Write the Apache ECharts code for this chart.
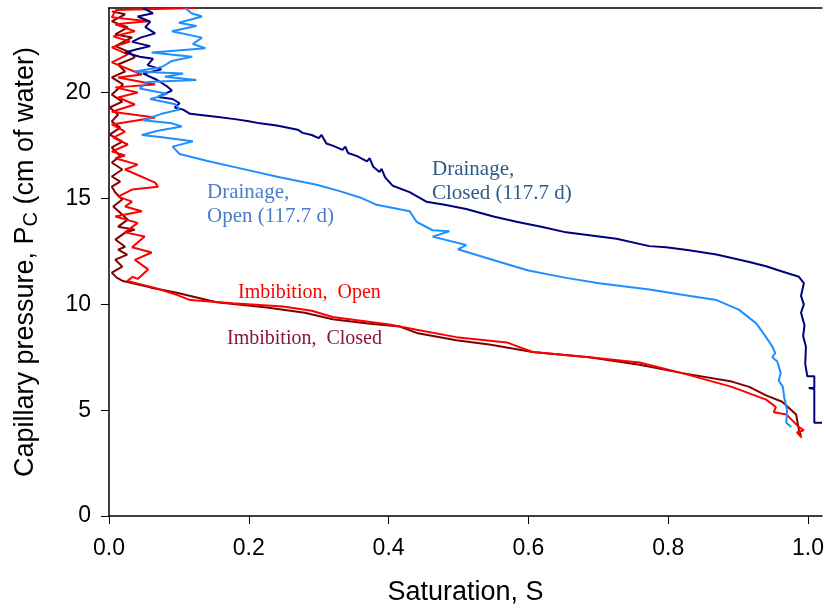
<!DOCTYPE html>
<html>
<head>
<meta charset="utf-8">
<script src="https://cdn.jsdelivr.net/npm/echarts@6/dist/echarts.min.js"></script>
<style>
  html, body { margin: 0; padding: 0; background: #fff; }
  #main { width: 828px; height: 608px; }
</style>
</head>
<body>
<div id="main"></div>
<script>
// 刻度
var xTicks = [0, 0.2, 0.4, 0.6, 0.8, 1.0];
var yTicks = [0, 5, 10, 15, 20];

// 数据: [饱和度 S, 毛细压力 Pc]
var drainageClosed = [
  [0.049,24.0],[0.063,23.75],[0.041,23.6],[0.059,23.35],[0.052,23.1],[0.066,22.8],
  [0.045,22.6],[0.033,22.4],[0.059,22.2],[0.040,22.05],[0.023,21.9],[0.044,21.7],
  [0.063,21.6],[0.055,21.3],[0.075,21.1],[0.049,20.9],[0.069,20.6],[0.083,20.3],
  [0.090,20.1],[0.070,19.8],[0.091,19.7],[0.101,19.5],[0.094,19.3],[0.106,19.2],
  [0.116,19.0],[0.156,18.85],[0.180,18.75],[0.200,18.65],[0.216,18.55],[0.240,18.45],
  [0.263,18.3],[0.270,18.25],[0.277,18.1],[0.290,18.0],[0.300,17.85],[0.304,18.0],
  [0.311,17.6],[0.320,17.5],[0.334,17.3],[0.338,17.45],[0.342,17.15],[0.355,17.0],
  [0.369,16.75],[0.373,16.9],[0.378,16.5],[0.387,16.25],[0.390,16.4],[0.395,16.0],
  [0.406,15.6],[0.430,15.3],[0.454,14.85],[0.480,14.7],[0.511,14.5],[0.550,14.15],
  [0.583,13.9],[0.620,13.65],[0.654,13.4],[0.690,13.25],[0.726,13.1],[0.773,12.75],
  [0.797,12.7],[0.830,12.55],[0.869,12.35],[0.916,12.0],[0.940,11.8],[0.963,11.55],
  [0.987,11.3],[0.994,11.0],[0.990,10.4],[0.994,10.0],[0.990,9.6],[0.995,9.0],
  [0.993,8.5],[0.997,8.0],[0.996,7.2],[0.999,6.6],[1.009,6.6],[1.009,6.05],
  [1.001,6.05],[1.009,6.0],[1.009,4.4],[1.02,4.4]
];
var drainageOpen = [
  [0.109,24.0],[0.118,23.75],[0.133,23.6],[0.100,23.3],[0.125,23.15],[0.090,22.9],
  [0.133,22.6],[0.120,22.3],[0.138,22.1],[0.080,21.95],[0.061,21.9],[0.119,21.7],
  [0.090,21.5],[0.075,21.2],[0.037,21.0],[0.106,20.9],[0.080,20.75],[0.125,20.6],
  [0.054,20.5],[0.044,20.2],[0.083,19.95],[0.070,19.8],[0.059,19.7],[0.095,19.45],
  [0.101,19.2],[0.075,19.0],[0.049,18.7],[0.090,18.55],[0.104,18.4],[0.070,18.2],
  [0.047,18.0],[0.073,17.9],[0.120,17.7],[0.091,17.45],[0.101,17.1],[0.144,16.75],
  [0.191,16.4],[0.244,16.0],[0.297,15.65],[0.330,15.35],[0.359,15.05],[0.383,14.7],
  [0.430,14.4],[0.440,13.9],[0.463,13.5],[0.487,13.45],[0.463,13.2],[0.511,12.8],
  [0.499,12.6],[0.559,12.0],[0.600,11.6],[0.654,11.25],[0.701,11.0],[0.773,10.7],
  [0.820,10.45],[0.869,10.2],[0.901,9.75],[0.926,9.1],[0.940,8.45],[0.949,8.0],
  [0.953,7.7],[0.949,7.5],[0.956,7.3],[0.961,6.75],[0.958,6.4],[0.964,6.1],
  [0.966,5.6],[0.970,5.0],[0.969,4.4],[0.976,4.2]
];
var imbibitionClosed = [
  [0.004,23.84],[0.023,23.7],[0.004,23.37],[0.027,23.08],[0.009,22.75],[0.033,22.61],
  [0.009,22.2],[0.030,21.9],[0.037,21.67],[0.013,21.33],[0.023,21.0],[0.004,20.72],
  [0.020,20.39],[0.004,19.91],[0.019,19.58],[0.001,19.3],[0.013,18.97],[0.004,18.64],
  [0.016,18.35],[0.001,18.02],[0.019,17.69],[0.004,17.41],[0.016,17.0],[0.004,16.7],
  [0.019,16.37],[0.004,16.04],[0.016,15.8],[0.004,15.56],[0.009,15.28],[0.019,14.95],
  [0.006,14.62],[0.016,14.33],[0.027,14.0],[0.013,13.67],[0.037,13.53],[0.023,13.39],
  [0.009,13.06],[0.023,12.72],[0.013,12.58],[0.026,12.35],[0.009,12.11],[0.019,11.78],
  [0.004,11.5],[0.011,11.26],[0.020,11.1],[0.059,10.8],[0.097,10.55],[0.154,10.1],
  [0.226,9.85],[0.280,9.6],[0.320,9.3],[0.370,9.1],[0.416,8.95],[0.440,8.65],
  [0.497,8.3],[0.544,8.1],[0.606,7.75],[0.687,7.5],[0.759,7.15],[0.820,6.75],
  [0.891,6.35],[0.916,6.1],[0.940,5.7],[0.963,5.4],[0.983,4.8],[0.987,4.05],[0.990,3.8]
];
var imbibitionOpen = [
  [0.123,24.0],[0.010,23.9],[0.004,23.56],[0.056,23.37],[0.009,23.23],[0.037,22.9],
  [0.006,22.66],[0.030,22.42],[0.004,22.14],[0.027,21.81],[0.004,21.43],[0.047,20.86],
  [0.013,20.72],[0.066,20.39],[0.009,20.25],[0.041,20.01],[0.013,19.77],[0.037,19.44],
  [0.004,19.1],[0.066,18.83],[0.004,18.5],[0.023,18.16],[0.006,17.88],[0.027,17.55],
  [0.004,17.22],[0.023,17.03],[0.009,16.9],[0.041,16.6],[0.023,16.37],[0.066,15.75],
  [0.070,15.55],[0.033,15.42],[0.013,15.09],[0.033,14.85],[0.023,14.62],[0.047,14.4],
  [0.009,14.15],[0.041,13.85],[0.023,13.4],[0.051,13.2],[0.033,12.7],[0.061,12.45],
  [0.037,12.1],[0.056,11.65],[0.041,11.2],[0.034,11.3],[0.026,11.1],[0.063,10.8],
  [0.097,10.45],[0.116,10.2],[0.177,10.05],[0.249,9.9],[0.290,9.7],[0.320,9.4],
  [0.401,9.05],[0.440,8.8],[0.497,8.45],[0.569,8.2],[0.606,7.75],[0.687,7.5],
  [0.759,7.25],[0.820,6.75],[0.891,6.1],[0.940,5.5],[0.954,5.15],[0.951,4.9],
  [0.969,4.8],[0.987,4.2],[0.994,4.05],[0.984,3.95],[0.991,3.7]
];

var myChart = echarts.init(document.getElementById('main'));
var sans = 'Liberation Sans';
var serif = 'Liberation Serif';

function line(name, data, color) {
  return {
    name: name,
    type: 'line',
    data: data,
    showSymbol: false,
    symbol: 'none',
    lineStyle: { color: color, width: 2 },
    itemStyle: { color: color },
    z: 3
  };
}

var option = {
  animation: false,
  backgroundColor: '#fff',
  grid: { left: 109, right: 6, top: 8, bottom: 92, containLabel: false, outerBoundsMode: 'none' },
  xAxis: [{
    type: 'value',
    min: 0,
    max: 1.02,
    interval: 0.2,
    position: 'bottom',
    name: 'Saturation, S',
    nameLocation: 'middle',
    nameGap: 63,
    nameTextStyle: { fontFamily: sans, fontSize: 27, color: '#000' },
    axisLine: { show: true, lineStyle: { color: '#000', width: 1.5 } },
    axisTick: { show: true, inside: false, length: 8, lineStyle: { color: '#000' }, customValues: xTicks },
    axisLabel: {
      margin: 21,
      customValues: xTicks,
      formatter: function (v) { return v.toFixed(1); },
      fontFamily: sans, fontSize: 23, color: '#000'
    },
    splitLine: { show: false }
  }, {
    type: 'value',
    min: 0,
    max: 1.02,
    position: 'top',
    axisLine: { show: true, lineStyle: { color: '#000', width: 1.5 } },
    axisTick: { show: false },
    axisLabel: { show: false },
    splitLine: { show: false }
  }],
  yAxis: {
    type: 'value',
    min: 0,
    max: 24,
    interval: 5,
    name: '{a|Capillary pressure, P}{s|C}{a| (cm of water)}',
    nameLocation: 'middle',
    nameRotate: 90,
    nameGap: 68,
    nameTextStyle: {
      rich: {
        a: { fontFamily: sans, fontSize: 27, color: '#000' },
        s: { fontFamily: sans, fontSize: 20, color: '#000', verticalAlign: 'bottom', padding: [10, 0, 0, 0] }
      }
    },
    axisLine: { show: true, lineStyle: { color: '#000', width: 1.5 } },
    axisTick: { show: true, inside: false, length: 8, lineStyle: { color: '#000' }, customValues: yTicks },
    axisLabel: {
      margin: 18,
      customValues: yTicks,
      fontFamily: sans, fontSize: 23, color: '#000'
    },
    splitLine: { show: false }
  },
  series: [
    line('Imbibition, Closed', imbibitionClosed, '#800000'),
    line('Imbibition, Open', imbibitionOpen, '#ff0000'),
    line('Drainage, Closed', drainageClosed, '#000080'),
    line('Drainage, Open', drainageOpen, '#1e8fff')
  ],
  graphic: [
    { type: 'text', left: 432, top: 157, style: { text: 'Drainage,\nClosed (117.7 d)', font: '21px ' + serif, fill: '#2e5a8a', lineHeight: 24 } },
    { type: 'text', left: 207, top: 180, style: { text: 'Drainage,\nOpen (117.7 d)', font: '21px ' + serif, fill: '#4a7cc8', lineHeight: 24 } },
    { type: 'text', left: 238, top: 283, style: { text: 'Imbibition,  Open', font: '20px ' + serif, fill: '#ff0000' } },
    { type: 'text', left: 227, top: 329, style: { text: 'Imbibition,  Closed', font: '20px ' + serif, fill: '#8b1538' } }
  ]
};

myChart.setOption(option);
</script>
</body>
</html>
